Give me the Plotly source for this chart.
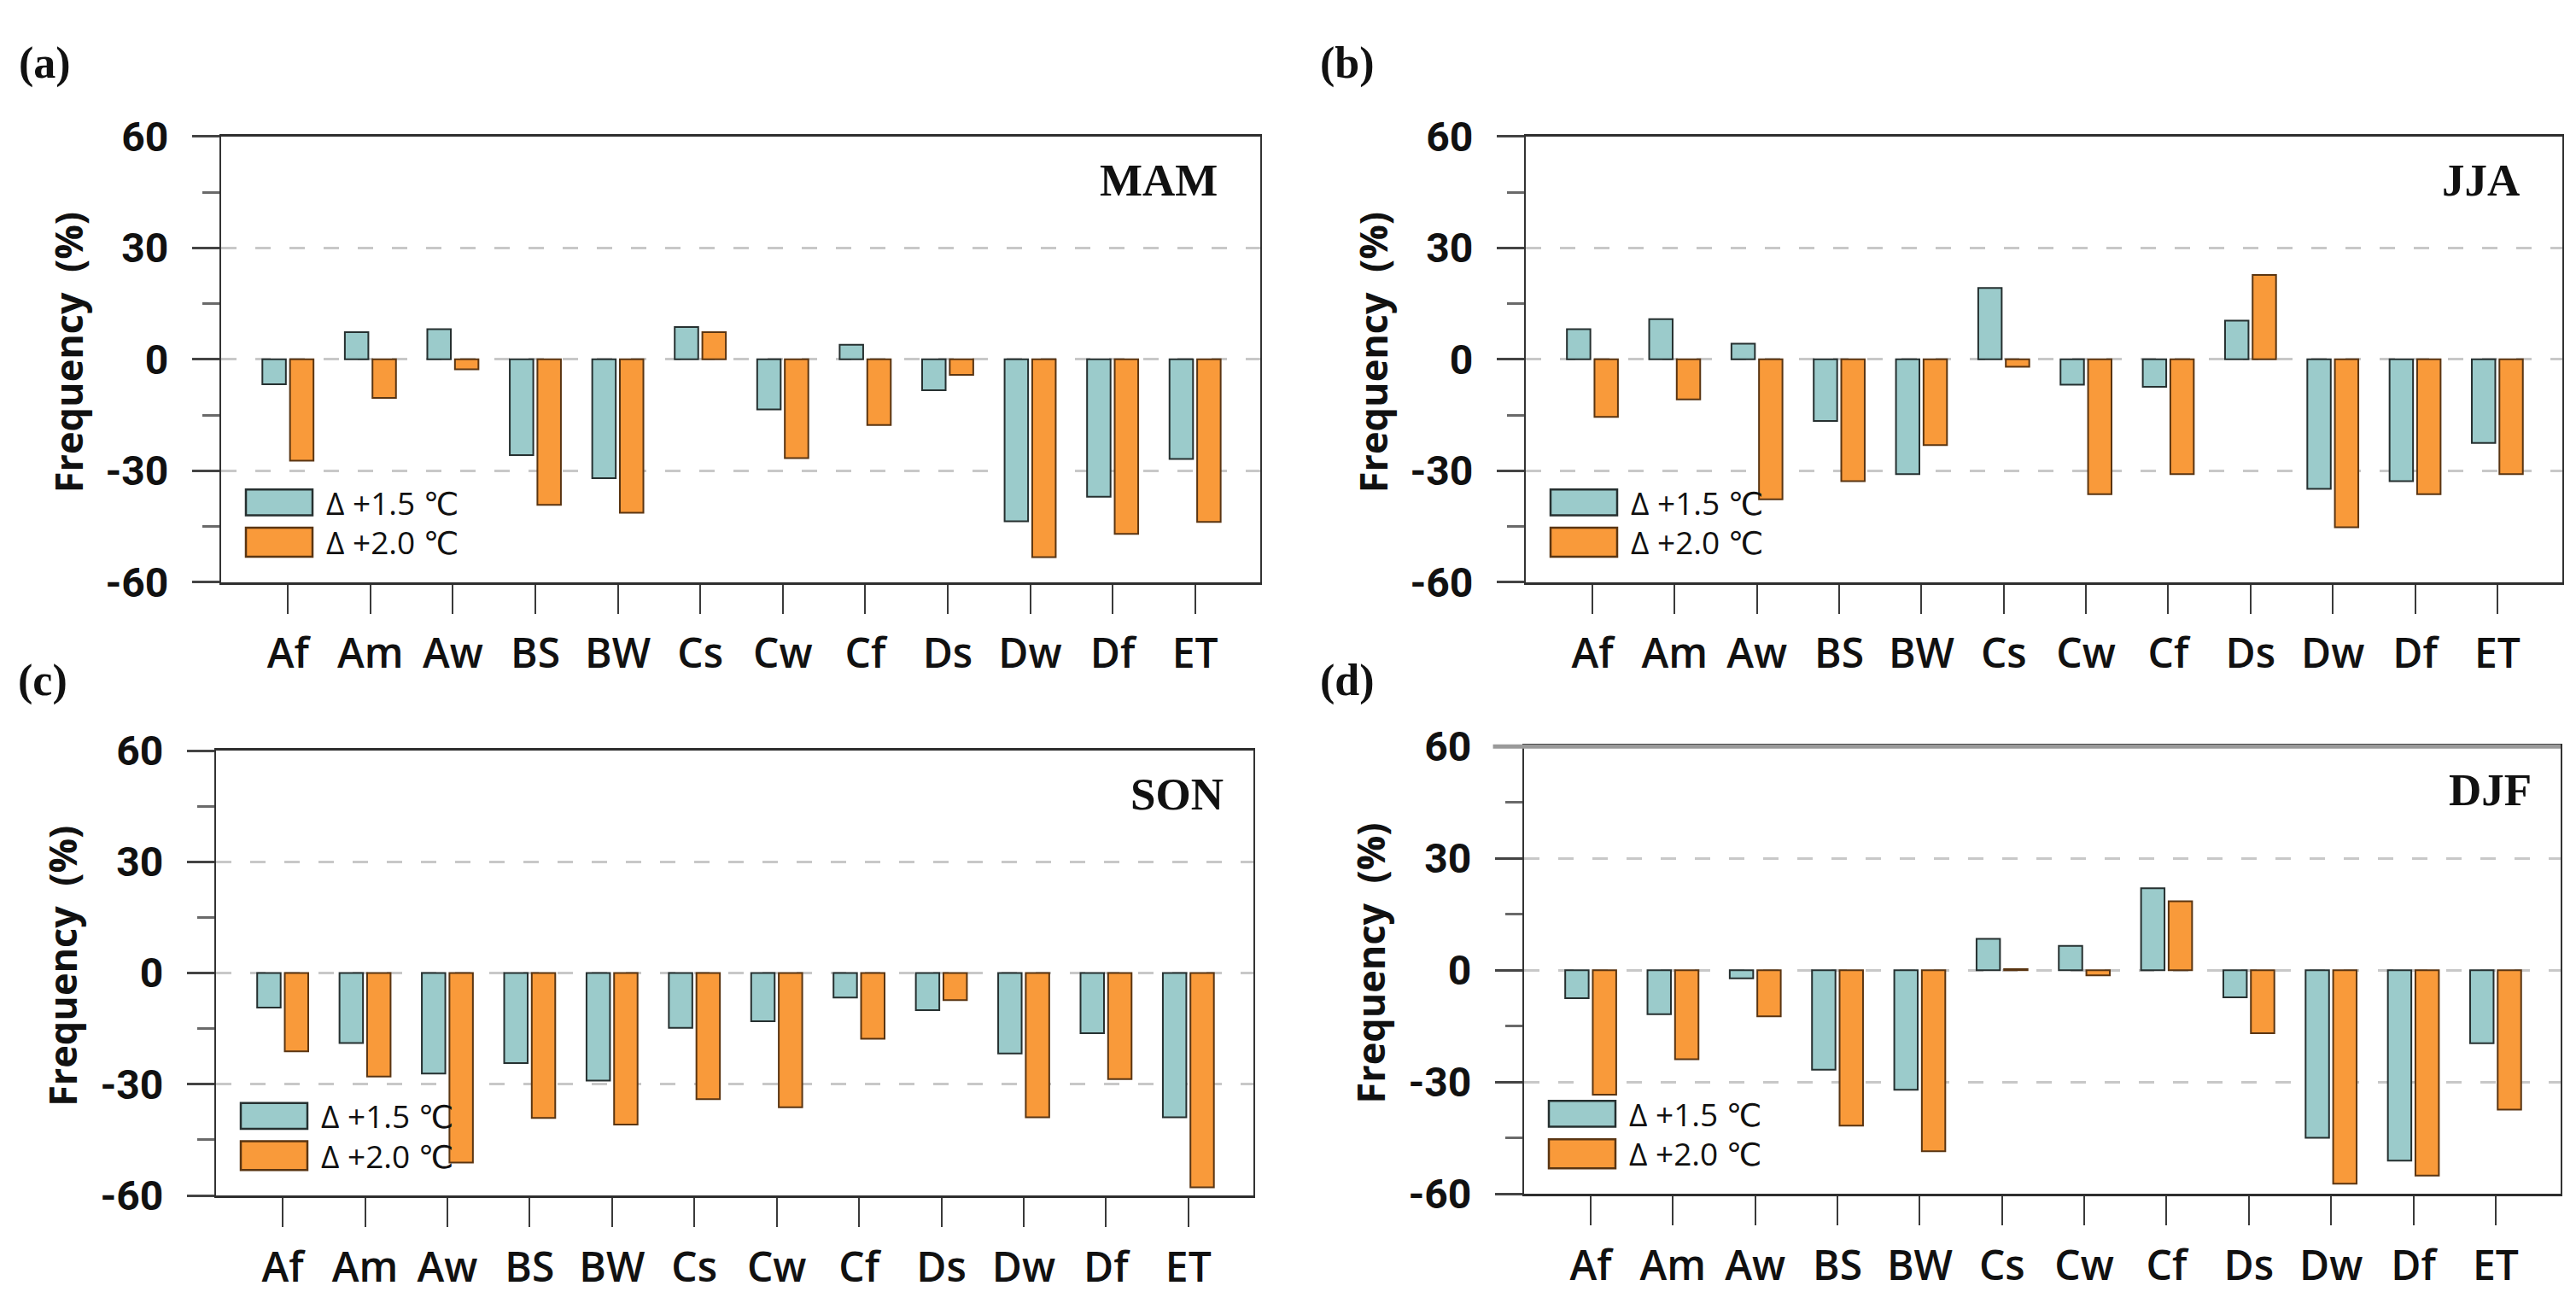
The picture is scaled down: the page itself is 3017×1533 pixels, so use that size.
import plotly.graph_objects as go

# ---------------- data ----------------
categories = ["Af", "Am", "Aw", "BS", "BW", "Cs", "Cw", "Cf", "Ds", "Dw", "Df", "ET"]
series_names = ["Δ +1.5 ℃", "Δ +2.0 ℃"]

mam_15 = [-6.7, 7.3, 8.1, -25.8, -32.0, 8.7, -13.5, 3.9, -8.3, -43.6, -37.0, -26.8]
mam_20 = [-27.3, -10.4, -2.7, -39.2, -41.3, 7.3, -26.6, -17.7, -4.2, -53.3, -47.0, -43.8]

jja_15 = [8.1, 10.8, 4.2, -16.6, -30.9, 19.2, -6.8, -7.4, 10.4, -34.9, -32.8, -22.5]
jja_20 = [-15.5, -10.8, -37.7, -32.8, -23.1, -2.0, -36.3, -30.9, 22.7, -45.2, -36.3, -30.9]

son_15 = [-9.3, -18.9, -27.1, -24.3, -29.0, -14.8, -13.0, -6.6, -10.0, -21.7, -16.2, -38.9]
son_20 = [-21.1, -27.9, -51.1, -39.1, -40.9, -34.0, -36.2, -17.7, -7.3, -38.9, -28.6, -57.8]

djf_15 = [-7.5, -11.8, -2.2, -26.7, -32.1, 8.4, 6.5, 22.0, -7.3, -45.0, -51.1, -19.6]
djf_20 = [-33.4, -23.9, -12.4, -41.7, -48.6, 0.3, -1.4, 18.5, -16.9, -57.3, -55.1, -37.4]

seasons = ["MAM", "JJA", "SON", "DJF"]
panel_tags = ["(a)", "(b)", "(c)", "(d)"]
y_ticks = [-60, -30, 0, 30, 60]
y_title = "Frequency  (%)"

# ---------------- style / layout ----------------
W, H = 3017, 1533
TEAL = "#9BCBCB"
ORANGE = "#F99A3A"
TEAL_LINE = "#263030"
ORANGE_LINE = "#5a3512"

values = [(mam_15, mam_20), (jja_15, jja_20), (son_15, son_20), (djf_15, djf_20)]
# pixel boxes of the four plot areas (x0, x1, y0_top, y1_bottom)
boxes = [(259, 1476, 137, 679), (1787, 3001, 137, 679),
         (253, 1468, 884, 1425), (1785, 2999, 879, 1423)]
tag_pos = [(52, 48), (1578, 48), (50, 799), (1578, 799)]
season_right = [48, 48, 33, 32]

fig = go.Figure()
annotations = []
shapes = []
layout = {}

for i in range(4):
    n = "" if i == 0 else str(i + 1)
    xa, ya = "x" + n, "y" + n
    x0, x1, yt, yb = boxes[i]
    wpx, hpx = x1 - x0, yb - yt
    s15, s20 = values[i]

    fig.add_trace(go.Bar(x=categories, y=s15, name=series_names[0], xaxis=xa, yaxis=ya,
                         offset=-0.31, width=0.285,
                         marker=dict(color=TEAL, line=dict(color=TEAL_LINE, width=2)),
                         showlegend=False))
    fig.add_trace(go.Bar(x=categories, y=s20, name=series_names[1], xaxis=xa, yaxis=ya,
                         offset=0.025, width=0.285,
                         marker=dict(color=ORANGE, line=dict(color=ORANGE_LINE, width=2)),
                         showlegend=False))

    layout["xaxis" + n] = dict(
        domain=[x0 / W, x1 / W], anchor=ya, type="category",
        range=[-0.81, 11.79], showgrid=False, zeroline=False,
        showline=True, mirror=True, linecolor="#2e2e2e", linewidth=3,
        ticks="outside", ticklen=34, tickwidth=2, tickcolor="#3a3a3a",
        tickfont=dict(family="Open Sans, DejaVu Sans, sans-serif", size=48, color="#111", weight=600),
        ticklabelstandoff=6,
    )
    layout["yaxis" + n] = dict(
        domain=[1 - yb / H, 1 - yt / H], anchor=xa,
        range=[-60, 60], tickvals=y_ticks, ticktext=[str(v) for v in y_ticks],
        showgrid=True, gridcolor="#c8c8c8", gridwidth=2.5, griddash="18px,22px",
        zeroline=False, showline=True, mirror=True, linecolor="#333", linewidth=2,
        ticks="outside", ticklen=32, tickwidth=3, tickcolor="#444",
        minor=dict(dtick=15, ticks="outside", ticklen=20, tickwidth=3, tickcolor="#6a6a6a", showgrid=False),
        tickfont=dict(family="Liberation Sans Narrow, Roboto, sans-serif", size=48, color="#111", weight="bold"),
        ticklabelstandoff=18,
    )

    # y title
    annotations.append(dict(text=y_title, textangle=-90, xref="paper", yref="paper",
                            x=(x0 - 180) / W, y=1 - ((yt + yb) / 2 - 8) / H,
                            xanchor="center", yanchor="middle", showarrow=False,
                            font=dict(family="Open Sans, DejaVu Sans, sans-serif", size=45,
                                      color="#111", weight="bold")))
    # panel tag
    annotations.append(dict(text=panel_tags[i], xref="paper", yref="paper",
                            x=tag_pos[i][0] / W, y=1 - tag_pos[i][1] / H,
                            xanchor="center", yanchor="middle", showarrow=False,
                            font=dict(family="Liberation Serif, Times New Roman, serif", size=52,
                                      color="#111", weight="bold")))
    # season label
    annotations.append(dict(text=seasons[i], xref=xa + " domain", yref=ya + " domain",
                            x=1 - season_right[i] / wpx, y=1 - 53 / hpx,
                            xanchor="right", yanchor="middle", showarrow=False,
                            font=dict(family="Liberation Serif, Times New Roman, serif", size=53,
                                      color="#111", weight="bold")))
    # custom legend
    leg = [(TEAL, TEAL_LINE, 0.150, 0.208, 0.179, series_names[0]),
           (ORANGE, ORANGE_LINE, 0.057, 0.122, 0.090, series_names[1])]
    for fill, line, b0, b1, ty, txt in leg:
        shapes.append(dict(type="rect", xref=xa + " domain", yref=ya + " domain",
                           x0=29 / wpx, x1=107 / wpx, y0=b0, y1=b1,
                           fillcolor=fill, line=dict(color=line, width=2.5)))
        annotations.append(dict(text=txt, xref=xa + " domain", yref=ya + " domain",
                                x=121 / wpx, y=ty, xanchor="left", yanchor="middle",
                                showarrow=False,
                                font=dict(family="Open Sans, DejaVu Sans, sans-serif", size=37,
                                          color="#111")))

# thicker grey top border of panel (d)
shapes.append(dict(type="line", xref="x4 domain", yref="y4 domain", x0=-0.03, x1=1, y0=1, y1=1,
                   line=dict(color="#9a9a9a", width=5)))

fig.update_layout(
    width=W, height=H, margin=dict(l=0, r=0, t=0, b=0),
    paper_bgcolor="white", plot_bgcolor="white",
    barmode="overlay", showlegend=False,
    annotations=annotations, shapes=shapes,
    **layout,
)

fig.write_html("out.html", config={"displayModeBar": False},
               post_script="document.body.style.margin='0';document.body.style.overflow='hidden';")
